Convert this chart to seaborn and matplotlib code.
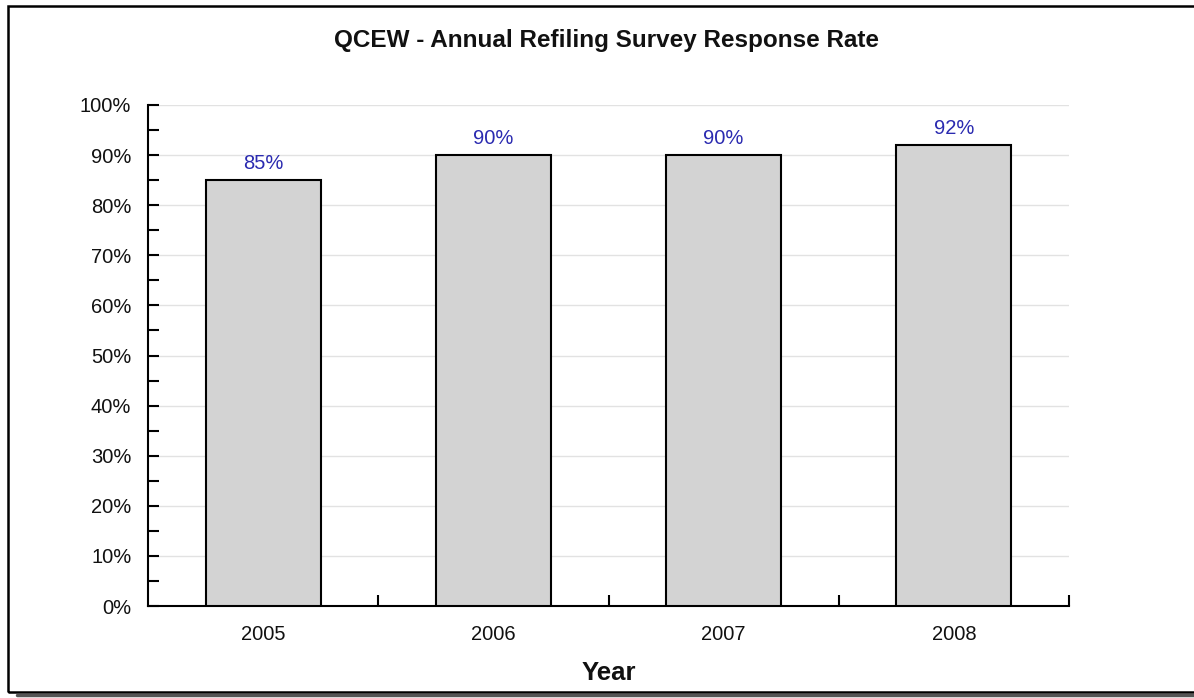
import matplotlib
matplotlib.use("Agg")
import matplotlib.pyplot as plt
from matplotlib.patches import Rectangle
from matplotlib.lines import Line2D
from matplotlib.ticker import MultipleLocator, FixedLocator, PercentFormatter
import seaborn as sns
import pandas as pd

years = ["2005", "2006", "2007", "2008"]
response_rate = [85, 90, 90, 92]
title = "QCEW - Annual Refiling Survey Response Rate"
x_label = "Year"

sns.set_style("white")
plt.rcParams["font.family"] = ["Liberation Sans", "DejaVu Sans"]
plt.rcParams["text.color"] = "black"
plt.rcParams["axes.labelcolor"] = "black"
plt.rcParams["xtick.color"] = "black"
plt.rcParams["ytick.color"] = "black"

W, H = 1194, 698
fig = plt.figure(figsize=(W / 100, H / 100), dpi=100)
ax = fig.add_axes([148 / W, 1 - 606 / H, (1069 - 148) / W, (606 - 105) / H])

df = pd.DataFrame({"Year": years, "Rate": response_rate})
sns.barplot(data=df, x="Year", y="Rate", color="#d3d3d3", saturation=1,
            edgecolor="black", linewidth=1.5, width=0.5, ax=ax, zorder=3)

ax.set_xlim(-0.5, len(years) - 0.5)
ax.set_ylim(0, 100)

# y axis: major ticks every 10%, minor every 5%, all pointing inward
ax.yaxis.set_major_locator(MultipleLocator(10))
ax.yaxis.set_minor_locator(MultipleLocator(5))
ax.yaxis.set_major_formatter(PercentFormatter(decimals=0))
ax.tick_params(axis="y", which="both", direction="in", length=8, width=1.5,
               color="black", labelcolor="#111111", labelsize=14.5, pad=12,
               left=True)

# x axis: labels centred under bars, tick marks on category boundaries
ax.xaxis.set_minor_locator(FixedLocator([i + 0.5 for i in range(len(years))]))
ax.tick_params(axis="x", which="major", length=0, labelsize=14.5, pad=14,
               labelcolor="#111111")
ax.tick_params(axis="x", which="minor", direction="in", length=8, width=1.5,
               color="black", bottom=True)

ax.grid(axis="y", which="major", color="#e2e2e2", linewidth=1, zorder=0)
ax.set_axisbelow(True)

for side in ("top", "right"):
    ax.spines[side].set_visible(False)
for side in ("left", "bottom"):
    ax.spines[side].set_linewidth(1.5)
    ax.spines[side].set_color("black")

ax.set_ylabel("")
ax.set_xlabel(x_label, fontsize=18.5, fontweight="bold", labelpad=12,
              color="#111111")

for patch, val in zip(ax.patches, response_rate):
    ax.annotate(f"{val}%", (patch.get_x() + patch.get_width() / 2, val),
                xytext=(0, 5), textcoords="offset points", ha="center",
                va="bottom", fontsize=14.5, color="#2a2ab0")

fig.text(607 / W, 1 - 41 / H, title, ha="center", va="center",
         fontsize=17.5, fontweight="bold", color="#111111")

# outer panel frame with a drop shadow along the bottom
fig.add_artist(Line2D([17 / W, 1], [1 - 695 / H] * 2, transform=fig.transFigure,
                      color="#555555", linewidth=2.5))
fig.add_artist(Rectangle((8 / W, 1 - 692 / H), 1.2, (692 - 6) / H,
                         transform=fig.transFigure, fill=False,
                         edgecolor="black", linewidth=1.8))

fig.savefig("out.png", dpi=100, facecolor="white")
